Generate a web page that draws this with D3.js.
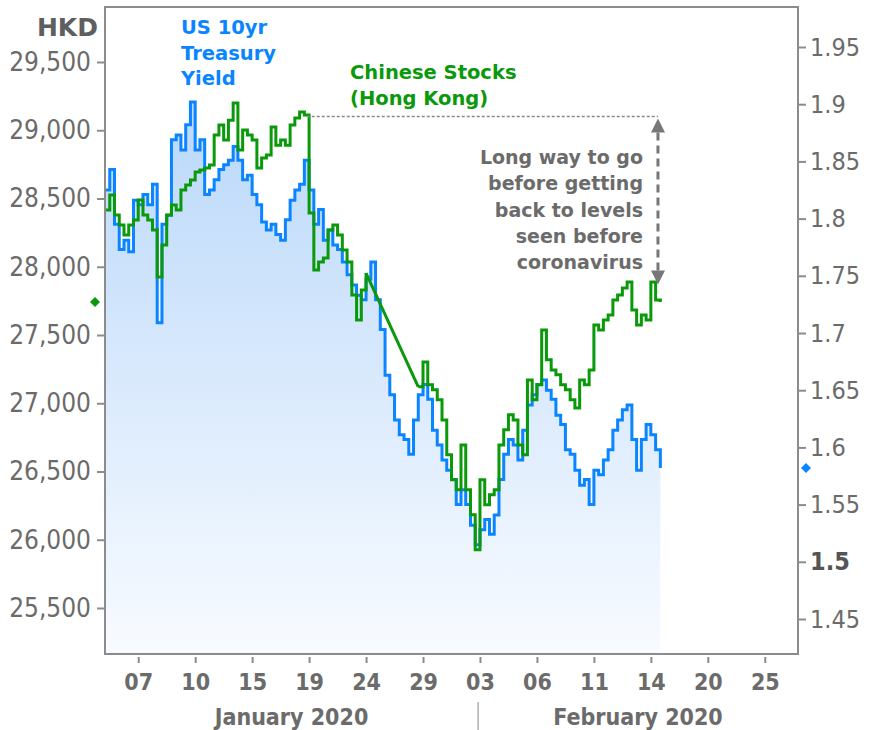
<!DOCTYPE html>
<html>
<head>
<meta charset="utf-8">
<script src="https://cdn.jsdelivr.net/npm/d3@7"></script>
<style>
  body { margin: 0; background: #fff; }
  svg { display: block; }
</style>
</head>
<body>
<svg id="chart" width="869" height="730"></svg>
<script>
// x positions are trading-session samples; ticks fall every 12 samples
const tickLabels = ["07", "10", "15", "19", "24", "29", "03", "06", "11", "14", "20", "25"];
const tickIndex = [7, 19, 31, 43, 55, 67, 79, 91, 103, 115, 127, 139];
const monthLabels = ["January 2020", "February 2020"];
const monthBreak = 78.6;
const sampleMax = 146;

const hkdTicks = [25500, 26000, 26500, 27000, 27500, 28000, 28500, 29000, 29500];
const yieldTicks = [1.45, 1.5, 1.55, 1.6, 1.65, 1.7, 1.75, 1.8, 1.85, 1.9, 1.95];

// US 10yr Treasury yield (right axis)
const yieldValues = [
  1.825, 1.843, 1.795, 1.773, 1.781, 1.771, 1.816, 1.812, 1.821, 1.812,
  1.830, 1.709, 1.795, 1.803, 1.869, 1.873, 1.860, 1.882, 1.902, 1.860,
  1.869, 1.821, 1.825, 1.834, 1.843, 1.847, 1.851, 1.863, 1.851, 1.834,
  1.838, 1.821, 1.812, 1.797, 1.790, 1.795, 1.786, 1.781, 1.799, 1.816,
  1.825, 1.830, 1.851, 1.825, 1.795, 1.808, 1.781, 1.790, 1.777, 1.773,
  1.762, 1.751, 1.742, 1.733, 1.729, 1.747, 1.762, 1.729, 1.703, 1.663,
  1.646, 1.624, 1.611, 1.607, 1.594, 1.624, 1.646, 1.655, 1.642, 1.615,
  1.602, 1.589, 1.580, 1.572, 1.550, 1.563, 1.550, 1.532, 1.515, 1.528,
  1.537, 1.524, 1.541, 1.572, 1.594, 1.607, 1.602, 1.589, 1.615, 1.637,
  1.646, 1.655, 1.659, 1.650, 1.642, 1.628, 1.620, 1.598, 1.594, 1.580,
  1.567, 1.572, 1.550, 1.580, 1.576, 1.589, 1.598, 1.615, 1.624, 1.633,
  1.637, 1.607, 1.580, 1.607, 1.620, 1.611, 1.598, 1.582
];

// Hang Seng (left axis), null = market closed for Lunar New Year
const hkdValues = [
  28416, 28525, 28379, 28306, 28233, 28306, 28342, 28489, 28379, 28342,
  28269, 27925, 28159, 28379, 28452, 28416, 28562, 28599, 28635, 28694,
  28708, 28723, 28745, 28965, 29038, 28928, 29074, 29199, 28855, 29001,
  28965, 28928, 28723, 28796, 28818, 29023, 28891, 28928, 28891, 29038,
  29089, 29133, 29111, 28394, 27976, 28035, 28064, 28269, 28306, 28233,
  28123, 28035, 27793, 27610, 27830, 27954, null, null, null, null,
  null, null, null, null, null, null, 27120, 27303, 27135, 27098,
  27025, 26878, 26622, 26439, 26366, 26695, 26366, 26183, 25927, 26439,
  26256, 26329, 26366, 26695, 26805, 26915, 26878, 26695, 26622, 27171,
  27025, 27135, 27537, 27318, 27244, 27208, 27135, 27098, 27025, 26966,
  27171, 27135, 27244, 27574, 27537, 27610, 27647, 27757, 27793, 27845,
  27889, 27684, 27574, 27647, 27610, 27889, 27757, 27742
];

const preVirusLevel = 29100;
const levelStart = 42.5;
const arrowAt = 116.5;
const arrowLow = 27870;

const plot = { left: 105, right: 798, top: 7, bottom: 654 };
const gray = "#6b6b6b";
const blue = "#0a84ff";
const green = "#0a990a";
const axisFont = "'DejaVu Sans Condensed', 'DejaVu Sans', sans-serif";
const labelFont = "'DejaVu Sans', Verdana, sans-serif";

const svg = d3.select("#chart");

const x = d3.scaleLinear().domain([0, sampleMax]).range([plot.left, plot.right]);
const yL = d3.scaleLinear().domain([25500, 29500]).range([608, 62]);
const yR = d3.scaleLinear().domain([1.45, 1.95]).range([619, 47]);

const defs = svg.append("defs");
const grad = defs.append("linearGradient")
  .attr("id", "areaFill")
  .attr("x1", 0).attr("y1", 0).attr("x2", 0).attr("y2", 1);
grad.append("stop").attr("offset", "0%").attr("stop-color", "#bad8fa");
grad.append("stop").attr("offset", "100%").attr("stop-color", "#f8fbff");

defs.append("clipPath").attr("id", "plotClip")
  .append("rect")
  .attr("x", plot.left).attr("y", plot.top)
  .attr("width", plot.right - plot.left).attr("height", plot.bottom - plot.top);

const g = svg.append("g").attr("clip-path", "url(#plotClip)");

const area = d3.area()
  .curve(d3.curveStepAfter)
  .x((d, i) => x(i))
  .y0(plot.bottom)
  .y1(d => yR(d));

g.append("path")
  .datum(yieldValues)
  .attr("fill", "url(#areaFill)")
  .attr("d", area);

const yieldLine = d3.line().curve(d3.curveStepAfter).x((d, i) => x(i)).y(d => yR(d));

g.append("path")
  .datum(yieldValues)
  .attr("fill", "none")
  .attr("stroke", blue)
  .attr("stroke-width", 3)
  .attr("d", yieldLine);

const hkdPoints = hkdValues.map((v, i) => ({ i, v }));
const hkdLine = d3.line()
  .curve(d3.curveStepAfter)
  .defined(d => d.v != null)
  .x(d => x(d.i))
  .y(d => yL(d.v));

g.append("path")
  .datum(hkdPoints)
  .attr("fill", "none")
  .attr("stroke", green)
  .attr("stroke-width", 3)
  .attr("d", hkdLine);

// straight bridge across the holiday closure
const known = hkdPoints.filter(d => d.v != null);
const bridge = [];
for (let k = 1; k < known.length; k++) {
  if (known[k].i - known[k - 1].i > 1) bridge.push([known[k - 1], known[k]]);
}
g.selectAll(".bridge")
  .data(bridge)
  .enter()
  .append("path")
  .attr("class", "bridge")
  .attr("fill", "none")
  .attr("stroke", green)
  .attr("stroke-width", 3)
  .attr("d", d3.line().x(d => x(d.i)).y(d => yL(d.v)));

// frame
svg.append("rect")
  .attr("x", plot.left).attr("y", plot.top)
  .attr("width", plot.right - plot.left).attr("height", plot.bottom - plot.top)
  .attr("fill", "none")
  .attr("stroke", "#8c8c8c")
  .attr("stroke-width", 2);

// left axis
const leftAxis = svg.append("g")
  .attr("transform", `translate(${plot.left},0)`)
  .call(d3.axisLeft(yL).tickValues(hkdTicks).tickSize(8).tickPadding(6).tickFormat(d3.format(",")));

// right axis
const rightAxis = svg.append("g")
  .attr("transform", `translate(${plot.right},0)`)
  .call(d3.axisRight(yR).tickValues(yieldTicks).tickSize(8).tickPadding(4).tickFormat(d => +d.toFixed(2)));

// bottom axis
const bottomAxis = svg.append("g")
  .attr("transform", `translate(0,${plot.bottom + 3})`)
  .call(d3.axisBottom(x).tickValues(tickIndex).tickSize(6).tickPadding(11).tickFormat((d, i) => tickLabels[i]));

[leftAxis, rightAxis, bottomAxis].forEach(a => {
  a.select(".domain").remove();
  a.selectAll(".tick line").attr("stroke", "#8c8c8c").attr("stroke-width", 2);
  a.selectAll(".tick text").attr("fill", gray);
});

leftAxis.selectAll(".tick text")
  .style("font-family", axisFont).style("font-size", "26px");
rightAxis.selectAll(".tick text")
  .style("font-family", axisFont).style("font-size", "25px")
  .filter(d => d === 1.5)
  .style("font-weight", "bold").attr("fill", "#555");
bottomAxis.selectAll(".tick text")
  .style("font-family", axisFont).style("font-size", "23px").style("font-weight", "bold");

// month labels
svg.append("line")
  .attr("x1", x(monthBreak)).attr("x2", x(monthBreak))
  .attr("y1", 702).attr("y2", 730)
  .attr("stroke", "#888").attr("stroke-width", 1);

svg.selectAll(".month")
  .data(monthLabels)
  .enter()
  .append("text")
  .attr("class", "month")
  .attr("x", (d, i) => i === 0 ? x(monthBreak / 2) : x((monthBreak + sampleMax) / 2))
  .attr("y", 725)
  .attr("text-anchor", "middle")
  .attr("fill", gray)
  .style("font-family", axisFont)
  .style("font-size", "23px")
  .style("font-weight", "bold")
  .text(d => d);

// HKD unit label
svg.append("text")
  .attr("x", 98).attr("y", 36)
  .attr("text-anchor", "end")
  .attr("fill", "#5f5f5f")
  .style("font-family", labelFont)
  .style("font-size", "25px")
  .style("font-weight", "bold")
  .text("HKD");

// last value markers
const diamond = d3.symbol().type(d3.symbolSquare).size(50);
svg.append("path")
  .attr("d", diamond)
  .attr("fill", green)
  .attr("transform", `translate(95,${yL(hkdValues[hkdValues.length - 1])}) rotate(45)`);
svg.append("path")
  .attr("d", diamond)
  .attr("fill", blue)
  .attr("transform", `translate(806,${yR(yieldValues[yieldValues.length - 1])}) rotate(45)`);

// series labels
const blueLabel = svg.append("text")
  .attr("fill", blue)
  .style("font-family", labelFont)
  .style("font-size", "19.5px")
  .style("font-weight", "bold");
["US 10yr", "Treasury", "Yield"].forEach((t, i) => {
  blueLabel.append("tspan").attr("x", 181).attr("y", 34 + i * 25.5).text(t);
});

const greenLabel = svg.append("text")
  .attr("fill", green)
  .style("font-family", labelFont)
  .style("font-size", "19.5px")
  .style("font-weight", "bold");
["Chinese Stocks", "(Hong Kong)"].forEach((t, i) => {
  greenLabel.append("tspan").attr("x", 350).attr("y", 79 + i * 25.5).text(t);
});

// pre-coronavirus level + arrow
svg.append("line")
  .attr("x1", x(levelStart)).attr("x2", x(arrowAt))
  .attr("y1", yL(preVirusLevel)).attr("y2", yL(preVirusLevel))
  .attr("stroke", "#8a8a8a")
  .attr("stroke-width", 1.5)
  .attr("stroke-dasharray", "3,2");

const ax = x(arrowAt);
const topTip = yL(preVirusLevel) + 2;
const lowTip = yL(arrowLow);
svg.append("line")
  .attr("x1", ax).attr("x2", ax)
  .attr("y1", topTip + 14).attr("y2", lowTip - 14)
  .attr("stroke", "#777")
  .attr("stroke-width", 3)
  .attr("stroke-dasharray", "8,5");
svg.append("path")
  .attr("d", `M${ax},${topTip} L${ax - 7},${topTip + 14} L${ax + 7},${topTip + 14} Z`)
  .attr("fill", "#777");
svg.append("path")
  .attr("d", `M${ax},${lowTip} L${ax - 7},${lowTip - 14} L${ax + 7},${lowTip - 14} Z`)
  .attr("fill", "#777");

const note = svg.append("text")
  .attr("text-anchor", "end")
  .attr("fill", gray)
  .style("font-family", labelFont)
  .style("font-size", "19px")
  .style("font-weight", "bold");
["Long way to go", "before getting", "back to levels", "seen before", "coronavirus"].forEach((t, i) => {
  note.append("tspan").attr("x", 643).attr("y", 164 + i * 26.3).text(t);
});
</script>
</body>
</html>
